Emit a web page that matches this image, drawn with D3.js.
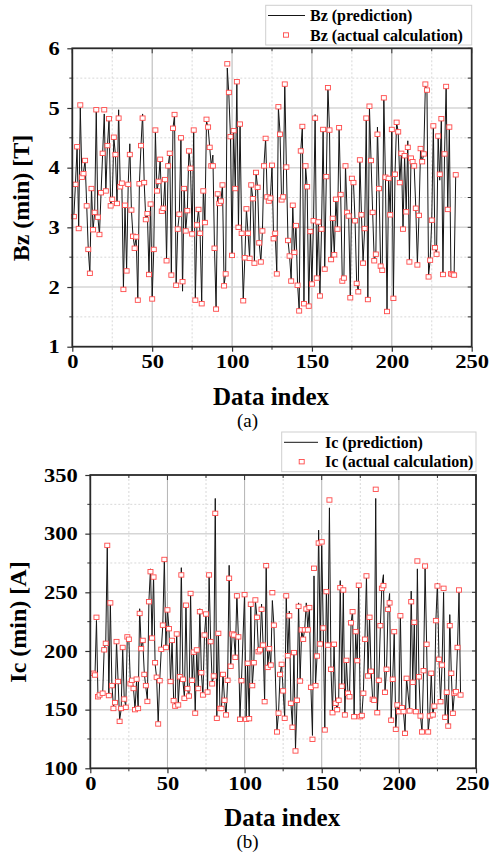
<!DOCTYPE html>
<html><head><meta charset="utf-8">
<script src="https://cdn.jsdelivr.net/npm/d3@7/dist/d3.min.js"></script>
<style>
html,body{margin:0;padding:0;background:#fff;}
svg{display:block;}
</style></head>
<body>
<svg id="chart" width="490" height="859"></svg>
<script>
// ---------- DATA ----------
const xTicks = [0, 50, 100, 150, 200, 250];
const bzTicks = [1, 2, 3, 4, 5, 6];
const icTicks = [100, 150, 200, 250, 300, 350];

// Panel (a): Bz, data index 1..240
const bzActual = [
3.18,3.72,4.35,2.98,5.05,3.84,3.9,4.12,3.36,2.63,
2.23,3.65,2.96,3.25,4.97,3.17,2.88,3.58,4.24,4.97,
3.61,4.37,4.82,3.36,3.47,4.51,4.22,3.4,4.83,3.68,
3.74,1.96,3.37,2.27,3.72,4.22,3.29,2.85,2.65,2.84,
1.78,3.73,4.37,4.83,3.75,3.13,3.23,2.21,3.39,1.8,
2.63,4.63,3.61,3.77,4.14,3.27,3.32,3.8,2.44,4.03,
4.24,2.2,4.66,4.89,2.03,2.97,3.22,4.5,2.09,3.65,
2.94,3.28,4.28,3.99,2.89,4.63,1.78,3.04,3.3,2.9,
1.72,3.61,3.08,4.81,4.68,4.34,4.03,4.03,2.65,1.63,
3.56,3.4,3.44,3.71,2.02,2.22,5.74,5.26,4.52,2.53,
4.62,3.65,5.44,3.0,4.73,2.9,1.77,2.49,3.31,2.9,
2.48,3.71,3.48,2.4,3.92,3.67,2.74,2.42,2.94,4.03,
4.49,3.51,3.44,3.49,4.04,2.81,2.9,2.22,5.02,4.56,
3.46,3.51,5.4,4.01,2.78,2.52,2.1,3.37,2.58,3.03,
2.03,1.6,4.28,4.69,1.72,4.03,3.68,1.68,2.93,2.05,
3.11,4.83,2.15,3.09,1.85,2.97,4.64,2.3,3.85,5.34,
4.63,2.46,3.15,2.54,3.47,2.97,4.67,3.55,2.1,2.15,
4.03,3.25,3.19,1.82,3.82,3.75,3.11,2.06,1.92,4.13,
3.21,2.4,2.98,4.83,1.79,5.03,4.12,3.25,2.44,2.55,
4.56,3.65,2.35,2.28,5.17,3.84,1.59,3.82,3.21,4.64,
1.81,3.89,4.76,4.6,3.75,4.24,2.97,4.2,3.26,4.34,
2.42,4.16,4.1,4.03,3.32,2.37,3.2,4.32,4.1,4.23,
5.4,5.3,2.17,2.45,3.12,4.7,2.66,2.55,4.53,3.89,
4.82,2.21,4.23,5.36,3.3,4.68,2.22,2.21,2.2,3.88
];
const bzPred = [
3.2,3.74,4.33,3.0,5.0,3.84,3.92,4.12,3.38,2.63,
2.23,3.66,2.96,3.25,4.95,3.17,2.88,3.58,4.24,4.9,
3.61,4.37,4.8,3.38,3.47,4.5,4.22,3.4,4.97,3.7,
3.76,1.98,3.37,2.29,3.72,4.4,3.29,2.85,2.67,2.84,
1.8,3.73,4.37,4.9,3.75,3.13,3.23,2.23,3.39,1.82,
2.63,4.6,3.61,3.77,4.14,3.27,3.32,3.8,2.46,4.03,
4.24,2.22,4.66,4.88,2.03,2.97,3.22,4.5,1.93,3.65,
2.94,3.28,4.3,3.99,2.89,4.63,1.8,3.04,3.3,2.9,
1.74,3.63,3.08,4.78,4.68,4.34,4.03,4.21,2.65,1.65,
3.56,3.4,3.44,3.71,2.04,2.22,5.67,5.22,4.52,2.55,
4.62,3.65,5.4,3.0,4.73,2.9,1.79,2.49,3.31,2.9,
2.48,3.71,3.48,2.42,3.92,3.67,2.74,2.42,2.94,4.05,
4.49,3.51,3.44,3.49,4.04,2.81,2.9,2.24,5.0,4.6,
3.46,3.51,5.42,4.01,2.78,2.52,2.12,3.37,2.58,3.03,
2.05,1.62,4.28,4.69,1.74,4.03,3.68,1.7,2.93,2.07,
3.11,4.89,2.15,3.09,1.87,2.97,4.64,2.32,3.85,5.35,
4.63,2.46,3.15,2.54,3.47,2.97,4.67,3.55,2.1,2.15,
4.03,3.25,3.19,1.84,3.82,3.75,3.11,2.06,1.94,4.15,
3.21,2.42,2.98,4.83,1.81,5.0,4.12,3.25,2.44,2.55,
4.68,3.65,2.35,2.3,5.18,3.84,1.62,3.82,3.21,4.64,
1.83,3.9,4.76,4.6,3.75,4.24,2.97,4.2,3.26,4.45,
2.42,4.16,4.1,4.03,3.32,2.39,3.2,4.32,4.1,4.23,
5.38,5.3,2.19,2.45,3.12,4.7,2.66,2.55,4.53,3.79,
4.85,2.23,4.23,5.36,3.3,4.68,2.22,2.21,2.22,3.88
];

// Panel (b): Ic, data index ranges (inclusive)
const icIndexRanges = [[2,6],[8,98],[100,119],[121,205],[207,240]];
const icActual = [
181,179.5,228.7,161,162.5,164,201,206.5,290,162,
241,170.5,151,156,208,174,140,151,203,159,
152,212,210,172,175,168,150,176,151,232,
202,209,180,170.5,157,242,267.6,211,263,190,
177.6,137.8,174.7,201.4,222,278,203,235,219,174,
209,157.7,153,214.5,154,178,264.8,175.9,159.7,239,
168,161.6,249,175,199,147,200.9,168,233.5,181.5,
162.5,213.6,231.5,165,264.8,208,172,178.7,317.3,142.6,
215,151,151,180,158,145.5,175,262,187,214.5,
213.6,194.6,247,212,141.8,174.7,248,141.8,189.5,142.3,
239.8,170.5,190,243.5,228.7,199.4,201,235.5,205,156.8,
272.7,186,202,188,249.7,222,131,147,180,188.6,
166,142.6,247,196,230,155.4,135,198.6,114.8,158,
238,174.4,218,210,218,235.8,218,237,169,124.7,
270.5,170.5,195.7,292,206,293,219.6,132.7,250.6,205,
328.7,184.4,147.4,205.7,155.4,150,158,254,170,252,
145.5,192,164,161,224,233.5,144,216.5,191.8,256,
144,145,164,210,264,178.7,228.7,182.7,158.8,158,
337.8,147.4,175,221.6,253.4,255.7,164.8,184.4,235.5,241,
141,175.9,216.5,133.2,154,148.3,230,151.7,148.3,129.8,
176.7,148.9,242,173.3,224.4,148.3,276.7,178,144.6,131,
183.2,272.4,205.7,131,144.6,181,145.5,153,225.9,255.4,
192.9,156.8,188,253.4,143.5,164.8,136,221.6,181,146.9,
164,165.3,203,252,162.5
];
const icPred = [
183,178,226,159,163,163,202,206,290,160,
241,171,153,155,208,175,141,150,203,159,
153,213,210,171,176,168,150,175,152,236,
203,209,181,169,158,243,270,212,264,189,
177,139,175,201,222,278,204,236,219,173,
209,159,153,216,155,178,271,175,160,240,
168,160,249,176,199,148,200,168,236,181,
163,213,232,165,264,209,173,178,330,142,
217,152,151,181,158,145,174,273,187,216,
214,195,249,211,143,175,249,142,190,142,
241,170,190,243,229,199,202,240,205,157,
275,186,202,188,243,222,132,147,180,189,
166,143,247,196,234,156,136,199,116,158,
241,175,218,210,219,241,220,237,169,128,
264,171,196,303,206,290,220,134,251,205,
322,184,148,206,156,150,158,260,171,250,
146,192,164,161,223,235,145,215,192,256,
145,145,165,210,264,179,229,183,159,158,
330,148,175,221,256,265,165,184,236,249,
141,176,216,134,154,149,230,152,148,131,
177,149,251,173,224,148,270,178,145,131,
183,270,206,131,145,181,146,153,226,258,
193,157,188,250,144,165,137,231,181,147,
164,166,203,250,163
];

// ---------- DRAW ----------
const svg = d3.select("#chart");
const SERIF = "'Liberation Serif','Times New Roman',serif";

function panel(opt) {
  const {left, right, top, bottom, yDomain, yTicks, yMinorStep, series, yTitle, yTitleX, yTitleY, xTitleY, tag, tagY, legend, lastLabelShift} = opt;
  const x = d3.scaleLinear().domain([0, 250]).range([left, right]);
  const y = d3.scaleLinear().domain(yDomain).range([bottom, top]);
  const g = svg.append("g");

  const xMinor = d3.range(25, 250, 50);
  const yMinor = d3.range(yDomain[0] + yMinorStep, yDomain[1], yMinorStep * 2);

  // minor grid (dotted)
  g.append("g").selectAll("line").data(xMinor).join("line")
    .attr("x1", d => x(d)).attr("x2", d => x(d)).attr("y1", top).attr("y2", bottom)
    .attr("stroke", "#d8d8d8").attr("stroke-width", 1).attr("stroke-dasharray", "2,2");
  g.append("g").selectAll("line").data(yMinor).join("line")
    .attr("y1", d => y(d)).attr("y2", d => y(d)).attr("x1", left).attr("x2", right)
    .attr("stroke", "#d8d8d8").attr("stroke-width", 1).attr("stroke-dasharray", "2,2");
  // major grid
  g.append("g").selectAll("line").data(xTicks.slice(1, -1)).join("line")
    .attr("x1", d => x(d)).attr("x2", d => x(d)).attr("y1", top).attr("y2", bottom)
    .attr("stroke", "#b4b4b4").attr("stroke-width", 1);
  g.append("g").selectAll("line").data(yTicks.slice(1, -1)).join("line")
    .attr("y1", d => y(d)).attr("y2", d => y(d)).attr("x1", left).attr("x2", right)
    .attr("stroke", "#d6d6d6").attr("stroke-width", 1.5);

  // series
  const line = d3.line().x(d => x(d.i)).y(d => y(d.v));
  g.append("path").datum(series.pred).attr("d", line)
    .attr("fill", "none").attr("stroke", "#151515").attr("stroke-width", 1).attr("stroke-linejoin", "miter");
  g.append("g").selectAll("rect").data(series.act).join("rect")
    .attr("x", d => x(d.i) - 2.5).attr("y", d => y(d.v) - 2.2)
    .attr("width", 5).attr("height", 4.4)
    .attr("fill", "#fff").attr("stroke", "#ff4a4a").attr("stroke-width", 0.9);

  // axes
  const axB = d3.axisBottom(x).tickValues(xTicks).tickSize(5).tickPadding(4).tickFormat(d3.format("d"));
  const axL = d3.axisLeft(y).tickValues(yTicks).tickSize(5).tickPadding(5).tickFormat(d3.format("d"));
  const gB = g.append("g").attr("transform", `translate(0,${bottom})`).call(axB);
  const gL = g.append("g").attr("transform", `translate(${left},0)`).call(axL);
  // minor ticks
  g.append("g").selectAll("line").data(xMinor).join("line")
    .attr("x1", d => x(d)).attr("x2", d => x(d)).attr("y1", bottom).attr("y2", bottom + 3)
    .attr("stroke", "#333");
  g.append("g").selectAll("line").data(yMinor).join("line")
    .attr("y1", d => y(d)).attr("y2", d => y(d)).attr("x1", left).attr("x2", left - 3)
    .attr("stroke", "#333");
  // mirrored top/right ticks (inward)
  g.append("g").selectAll("line").data(xTicks.concat(xMinor)).join("line")
    .attr("x1", d => x(d)).attr("x2", d => x(d)).attr("y1", top).attr("y2", d => top + (d % 50 === 0 ? 5 : 3))
    .attr("stroke", "#333");
  g.append("g").selectAll("line").data(yTicks.concat(yMinor)).join("line")
    .attr("y1", d => y(d)).attr("y2", d => y(d)).attr("x1", right).attr("x2", right - 4)
    .attr("stroke", "#333");

  [gB, gL].forEach(a => {
    a.select(".domain").remove();
    a.selectAll(".tick line").attr("stroke", "#333").attr("stroke-width", 1.2);
    a.selectAll(".tick text").attr("font-family", SERIF).attr("font-weight", "bold")
      .attr("font-size", 18).attr("fill", "#000");
  });
  gB.selectAll(".tick text").attr("transform", (d) => d === 250 && lastLabelShift
      ? `translate(${-lastLabelShift},0) scale(1.25,1)` : "scale(1.25,1)");
  gL.selectAll(".tick text").attr("transform", "scale(1.25,1)").attr("dy", "0.34em");

  // frame
  g.append("rect").attr("x", left).attr("y", top).attr("width", right - left).attr("height", bottom - top)
    .attr("fill", "none").attr("stroke", "#2a2a2a").attr("stroke-width", 1.8);

  // titles
  g.append("text").attr("x", (left + right) / 2 - 1).attr("y", xTitleY)
    .attr("text-anchor", "middle").attr("font-family", SERIF).attr("font-weight", "bold")
    .attr("font-size", 25).text("Data index");
  g.append("text").attr("transform", `translate(${yTitleX},${yTitleY}) rotate(-90)`)
    .attr("text-anchor", "middle").attr("font-family", SERIF).attr("font-weight", "bold")
    .attr("font-size", 24).text(yTitle);
  g.append("text").attr("x", 247.5).attr("y", tagY).attr("text-anchor", "middle")
    .attr("font-family", SERIF).attr("font-size", 19).text(tag);

  // legend
  const L = legend;
  const lg = g.append("g");
  lg.append("rect").attr("x", L.x).attr("y", L.y).attr("width", L.w).attr("height", L.h)
    .attr("fill", "#fff").attr("stroke", "#cfcfcf").attr("stroke-width", 1);
  lg.append("line").attr("x1", L.lx1).attr("x2", L.lx2).attr("y1", L.r1).attr("y2", L.r1)
    .attr("stroke", "#151515").attr("stroke-width", 1);
  lg.append("rect").attr("x", L.mx - 2.5).attr("y", L.r2 - 2.2).attr("width", 5).attr("height", 4.4)
    .attr("fill", "#fff").attr("stroke", "#ff4a4a").attr("stroke-width", 0.9);
  lg.selectAll("text.lt").data(L.labels).join("text").attr("class", "lt")
    .attr("x", L.tx).attr("y", (d, k) => (k === 0 ? L.r1 : L.r2) + 5.5)
    .attr("font-family", SERIF).attr("font-weight", "bold").attr("font-size", 16).text(d => d);
}

const bzIdx = d3.range(1, bzActual.length + 1);
const icIdx = icIndexRanges.flatMap(([a, b]) => d3.range(a, b + 1));

panel({
  left: 72.3, right: 471.7, top: 48.3, bottom: 346.7,
  yDomain: [1, 6], yTicks: bzTicks, yMinorStep: 0.5,
  series: {
    act: bzActual.map((v, k) => ({i: bzIdx[k], v})),
    pred: bzPred.map((v, k) => ({i: bzIdx[k], v}))
  },
  yTitle: "Bz (min) [T]", yTitleX: 29, yTitleY: 198, xTitleY: 405,
  tag: "(a)", tagY: 427, lastLabelShift: 0,
  legend: {x: 265.7, y: 5.3, w: 206, h: 39.7, lx1: 268, lx2: 305, mx: 286, r1: 15.5, r2: 35, tx: 310,
           labels: ["Bz (prediction)", "Bz (actual calculation)"]}
});

panel({
  left: 90.3, right: 476, top: 475, bottom: 768.3,
  yDomain: [100, 350], yTicks: icTicks, yMinorStep: 25,
  series: {
    act: icActual.map((v, k) => ({i: icIdx[k], v})),
    pred: icPred.map((v, k) => ({i: icIdx[k], v}))
  },
  yTitle: "Ic (min) [A]", yTitleX: 26, yTitleY: 622, xTitleY: 826,
  tag: "(b)", tagY: 848, lastLabelShift: 4,
  legend: {x: 281.7, y: 432, w: 194.3, h: 39.7, lx1: 284, lx2: 318, mx: 301.7, r1: 442.3, r2: 461.7, tx: 325,
           labels: ["Ic (prediction)", "Ic (actual calculation)"]}
});
</script>
</body></html>
